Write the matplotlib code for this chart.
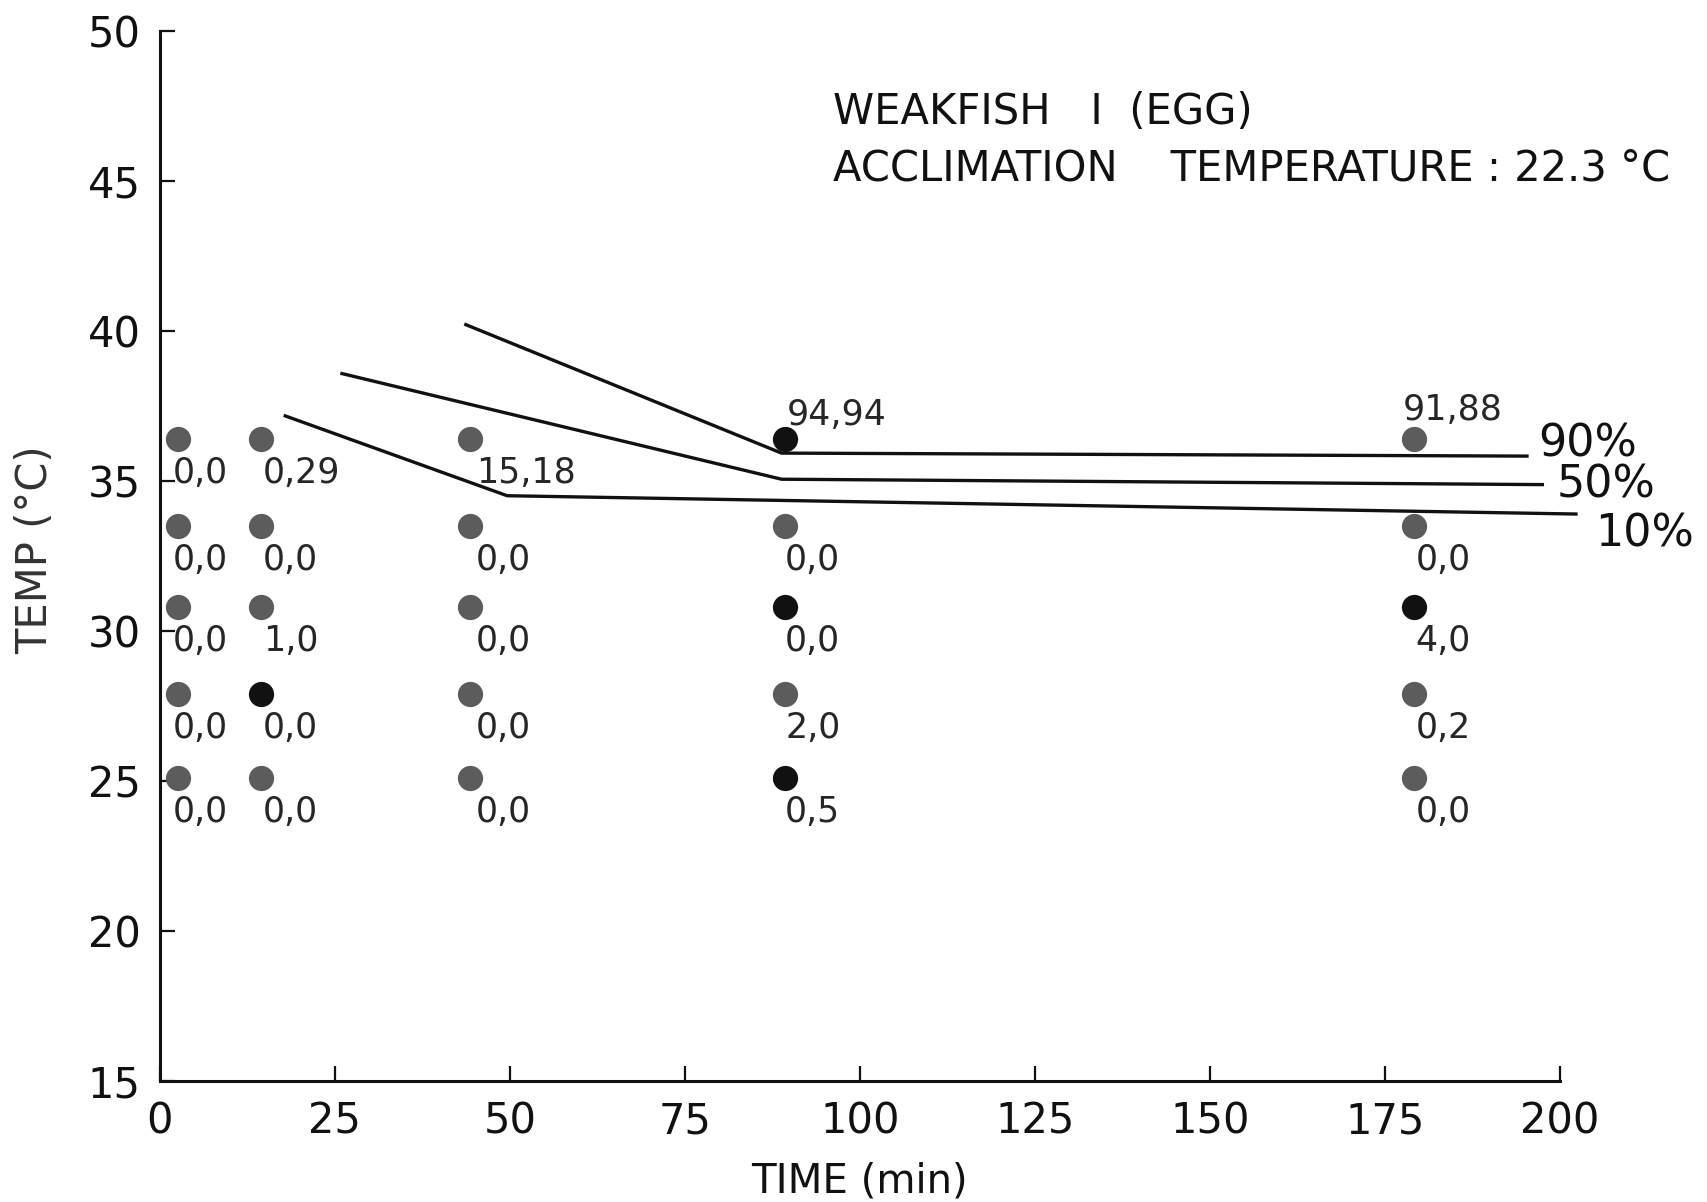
"""Weakfish I (egg) thermal tolerance chart."""

import matplotlib
matplotlib.use("Agg")
import matplotlib.pyplot as plt

# exposure times (min) and test temperatures (deg C) of the dots
times = [2.6, 14.4, 44.3, 89.3, 179.1]
temps = [36.4, 33.5, 30.8, 27.9, 25.1]

# dots drawn black (time index, temp index); all others grey
black_dots = [(1, 3), (3, 0), (3, 2), (3, 4), (4, 2)]

# mortality labels, one column per time, top temperature first
labels = [
    ["0,0", "0,0", "0,0", "0,0", "0,0"],
    ["0,29", "0,0", "1,0", "0,0", "0,0"],
    ["15,18", "0,0", "0,0", "0,0", "0,0"],
    ["94,94", "0,0", "0,0", "2,0", "0,5"],
    ["91,88", "0,0", "4,0", "0,2", "0,0"],
]

# isopleths of percent mortality
line_90_t = [43.7, 88.8, 195.3]
line_90_T = [40.2, 35.92, 35.82]
line_50_t = [26.0, 88.8, 197.5]
line_50_T = [38.57, 35.05, 34.87]
line_10_t = [17.9, 49.6, 202.3]
line_10_T = [37.16, 34.5, 33.89]

x_ticks = [0, 25, 50, 75, 100, 125, 150, 175, 200]
y_ticks = [15, 20, 25, 30, 35, 40, 45, 50]

GREY = "#5c5c5c"
BLACK = "#111111"
TXT = "#262626"

fig = plt.figure(figsize=(17.07, 12.02), dpi=100)
ax = fig.add_axes([0.0937, 0.1007, 0.8201, 0.8739])

for i, t in enumerate(times):
    for j, T in enumerate(temps):
        c = BLACK if (i, j) in black_dots else GREY
        ax.scatter([t], [T], s=330, color=c, zorder=3, linewidths=0)
        lab = labels[i][j]
        if j == 0 and i == 3:
            ax.text(t + 0.2, T + 0.8, lab, fontsize=25, color=TXT,
                    ha="left", va="center")
        elif j == 0 and i == 4:
            ax.text(t - 1.5, T + 0.95, lab, fontsize=25, color=TXT,
                    ha="left", va="center")
        else:
            dx = {0: -0.8, 1: 0.3, 2: 0.8, 3: 0.0, 4: 0.3}[i]
            ax.text(t + dx, T - 1.15, lab, fontsize=25, color=TXT,
                    ha="left", va="center")

for tt, TT in [(line_90_t, line_90_T), (line_50_t, line_50_T),
               (line_10_t, line_10_T)]:
    ax.plot(tt, TT, color=BLACK, lw=2.4, clip_on=False, zorder=2)

ax.text(196.9, 36.22, "90%", fontsize=32, color=BLACK, ha="left",
        va="center", clip_on=False)
ax.text(199.5, 34.87, "50%", fontsize=32, color=BLACK, ha="left",
        va="center", clip_on=False)
ax.text(205.1, 33.24, "10%", fontsize=32, color=BLACK, ha="left",
        va="center", clip_on=False)

ax.text(96.1, 47.3, "WEAKFISH   I  (EGG)", fontsize=30, color=BLACK,
        ha="left", va="center")
ax.text(96.1, 45.4, "ACCLIMATION    TEMPERATURE : 22.3 °C", fontsize=30,
        color=BLACK, ha="left", va="center")

ax.set_xlim(0, 200)
ax.set_ylim(15, 50)
ax.set_xticks(x_ticks)
ax.set_yticks(y_ticks)
ax.tick_params(direction="in", length=11, width=1.6, labelsize=30,
               colors=BLACK, pad=14)
ax.spines["top"].set_visible(False)
ax.spines["right"].set_visible(False)
for s in ("left", "bottom"):
    ax.spines[s].set_linewidth(2.2)
    ax.spines[s].set_color(BLACK)

ax.set_xlabel("TIME (min)", fontsize=29, color=BLACK, labelpad=14)
ax.set_ylabel("TEMP (°C)", fontsize=30, color="#333333", va="center")
ax.yaxis.set_label_coords(-0.089, 0.506)

fig.savefig("out.png", dpi=100)
